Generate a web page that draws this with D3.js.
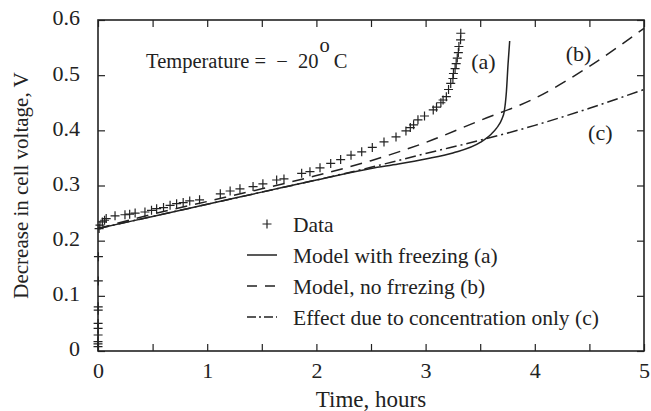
<!DOCTYPE html>
<html>
<head>
<meta charset="utf-8">
<script src="https://cdn.jsdelivr.net/npm/d3@7"></script>
<style>
  body { margin: 0; background: #fff; }
  text { font-family: "Liberation Serif", "DejaVu Serif", serif; fill: #222; }
</style>
</head>
<body>
<svg width="651" height="411"></svg>
<script>
// measured data (+)
var dataT = [0.000, 0.000, 0.000, 0.001, 0.001, 0.001, 0.002, 0.002, 0.003, 0.004,
    0.010, 0.018, 0.040, 0.060, 0.075, 0.156, 0.247, 0.290, 0.340, 0.430,
    0.490, 0.537, 0.600, 0.660, 0.720, 0.780, 0.840, 0.930, 1.120, 1.210,
    1.300, 1.420, 1.510, 1.636, 1.703, 1.865, 1.941, 2.033, 2.131, 2.222,
    2.317, 2.415, 2.512, 2.619, 2.729, 2.820, 2.860, 2.890, 2.930, 2.990,
    3.070, 3.100, 3.140, 3.160, 3.190, 3.210, 3.230, 3.250, 3.255, 3.270,
    3.280, 3.290, 3.300, 3.305, 3.320, 3.322];
var dataV = [0.008, 0.013, 0.017, 0.029, 0.041, 0.050, 0.074, 0.080, 0.127, 0.171,
    0.222, 0.228, 0.234, 0.237, 0.240, 0.245, 0.247, 0.248, 0.250, 0.252,
    0.255, 0.258, 0.260, 0.264, 0.267, 0.269, 0.272, 0.274, 0.285, 0.290,
    0.294, 0.298, 0.303, 0.310, 0.312, 0.322, 0.325, 0.332, 0.340, 0.347,
    0.355, 0.361, 0.369, 0.379, 0.388, 0.399, 0.405, 0.410, 0.419, 0.426,
    0.437, 0.442, 0.450, 0.455, 0.461, 0.474, 0.485, 0.494, 0.503, 0.512,
    0.521, 0.531, 0.541, 0.552, 0.564, 0.576];

// model with freezing (a)
var freezeT = [0, 0.5, 1, 1.5, 2, 2.5, 2.75, 3.0, 3.25, 3.5, 3.6, 3.65, 3.7, 3.72, 3.74, 3.755, 3.77];
var freezeV = [0.222, 0.244, 0.266, 0.288, 0.310, 0.331, 0.339, 0.348, 0.359, 0.378, 0.393, 0.404, 0.421, 0.434, 0.47, 0.52, 0.562];

// model, no freezing (b)
var noFreezeT = [0, 0.5, 1, 1.5, 2, 2.5, 3, 3.5, 4, 4.5, 5];
var noFreezeV = [0.222, 0.248, 0.271, 0.294, 0.318, 0.345, 0.378, 0.418, 0.458, 0.516, 0.585];

// concentration only (c)
var concT = [0, 0.5, 1, 1.5, 2, 2.5, 3, 3.5, 4, 4.5, 5];
var concV = [0.222, 0.244, 0.266, 0.288, 0.310, 0.333, 0.358, 0.382, 0.409, 0.440, 0.474];

var xTicks = [0, 0.5, 1, 1.5, 2, 2.5, 3, 3.5, 4, 4.5, 5];
var yTicks = [0, 0.1, 0.2, 0.3, 0.4, 0.5, 0.6];

var curveLabels = [
    { t: 3.53, v: 0.526, text: "(a)" },
    { t: 4.40, v: 0.540, text: "(b)" },
    { t: 4.60, v: 0.397, text: "(c)" }
];

var legendNames = ["Data", "Model with freezing (a)", "Model, no frrezing (b)", "Effect due to concentration only (c)"];

var svg = d3.select("svg"),
    margin = { top: 20, right: 7, bottom: 60, left: 98 },
    width = +svg.attr("width") - margin.left - margin.right,
    height = +svg.attr("height") - margin.top - margin.bottom;

var g = svg.append("g").attr("transform", "translate(" + margin.left + "," + margin.top + ")");

var x = d3.scaleLinear().domain([0, 5]).range([0, width]);
var y = d3.scaleLinear().domain([0, 0.6]).range([height, 0]);

var xFmt = function (d) { return d % 1 === 0 ? d3.format("d")(d) : ""; };
var yFmt = function (d) { return d === 0 ? "0" : d3.format(".1f")(d); };

// axes, ticks pointing inwards
var xAxis = g.append("g").attr("transform", "translate(0," + height + ")")
    .call(d3.axisBottom(x).tickValues(xTicks).tickFormat(xFmt).tickSize(-7).tickSizeOuter(0).tickPadding(11));
var xTop = g.append("g")
    .call(d3.axisTop(x).tickValues(xTicks).tickFormat("").tickSize(-7).tickSizeOuter(0));
var yAxis = g.append("g")
    .call(d3.axisLeft(y).tickValues(yTicks).tickFormat(yFmt).tickSize(-7).tickSizeOuter(0).tickPadding(18));
var yRight = g.append("g").attr("transform", "translate(" + width + ",0)")
    .call(d3.axisRight(y).tickValues(yTicks).tickFormat("").tickSize(-7).tickSizeOuter(0));

[xAxis, xTop, yAxis, yRight].forEach(function (a) {
    a.select(".domain").remove();
    a.selectAll(".tick line").attr("stroke", "#222").attr("stroke-width", 1.2);
    a.selectAll("text").style("font-size", "22px").attr("fill", "#222")
        .style("font-family", "Liberation Serif");
});
yAxis.selectAll("text").attr("dy", "0.22em");

g.append("rect")
    .attr("width", width).attr("height", height)
    .attr("fill", "none").attr("stroke", "#222").attr("stroke-width", 1.6);

// axis titles
g.append("text")
    .attr("x", width / 2).attr("y", height + 56)
    .attr("text-anchor", "middle")
    .style("font-size", "23px")
    .text("Time, hours");

g.append("text")
    .attr("transform", "translate(" + (-70) + "," + (height / 2) + ") rotate(-90)")
    .attr("text-anchor", "middle")
    .style("font-size", "21px")
    .text("Decrease in cell voltage, V");

// curves
var line = d3.line()
    .x(function (d) { return x(d[0]); })
    .y(function (d) { return y(d[1]); })
    .curve(d3.curveMonotoneX);

var series = [
    { t: concT, v: concV, dash: "11,4,2,4" },
    { t: noFreezeT, v: noFreezeV, dash: "12,8" },
    { t: freezeT, v: freezeV, dash: null }
];

series.forEach(function (s) {
    g.append("path")
        .datum(d3.zip(s.t, s.v))
        .attr("fill", "none")
        .attr("stroke", "#222")
        .attr("stroke-width", 1.5)
        .attr("stroke-dasharray", s.dash)
        .attr("d", line);
});

// data markers
function plusPath(cx, cy, r) {
    return "M" + (cx - r) + "," + cy + "H" + (cx + r) + "M" + cx + "," + (cy - r) + "V" + (cy + r);
}
g.selectAll(".pt")
    .data(d3.zip(dataT, dataV))
    .enter().append("path")
    .attr("class", "pt")
    .attr("d", function (d) { return plusPath(x(d[0]), y(d[1]), 4.5); })
    .attr("stroke", "#222")
    .attr("stroke-width", 1.2);

// curve labels
g.selectAll(".clab")
    .data(curveLabels)
    .enter().append("text")
    .attr("class", "clab")
    .attr("x", function (d) { return x(d.t); })
    .attr("y", function (d) { return y(d.v); })
    .attr("dy", "0.35em")
    .attr("text-anchor", "middle")
    .style("font-size", "22px")
    .text(function (d) { return d.text; });

// temperature note
var note = g.append("text")
    .attr("x", x(0.44)).attr("y", y(0.513))
    .style("font-size", "20.5px")
    .style("white-space", "pre");
note.append("tspan").text("Temperature =  \u2212  20");
note.append("tspan").attr("dy", -16).attr("dx", 1).text("o");
note.append("tspan").attr("dy", 16).attr("dx", 4).text("C");

// legend
var legend = g.append("g").attr("transform", "translate(" + (247 - margin.left) + "," + (224 - margin.top) + ")");
var legendDash = ["marker", null, "10,8", "9,3,2,3"];
legendNames.forEach(function (name, i) {
    var row = legend.append("g").attr("transform", "translate(0," + (i * 31) + ")");
    if (legendDash[i] === "marker") {
        row.append("path").attr("d", plusPath(20, 0, 4.5))
            .attr("stroke", "#222").attr("stroke-width", 1.2);
    } else {
        row.append("line").attr("x1", 0).attr("x2", 30)
            .attr("stroke", "#222").attr("stroke-width", 1.5)
            .attr("stroke-dasharray", legendDash[i]);
    }
    row.append("text").attr("x", 46).attr("dy", "0.35em")
        .style("font-size", "21.5px").text(name);
});
</script>
</body>
</html>
